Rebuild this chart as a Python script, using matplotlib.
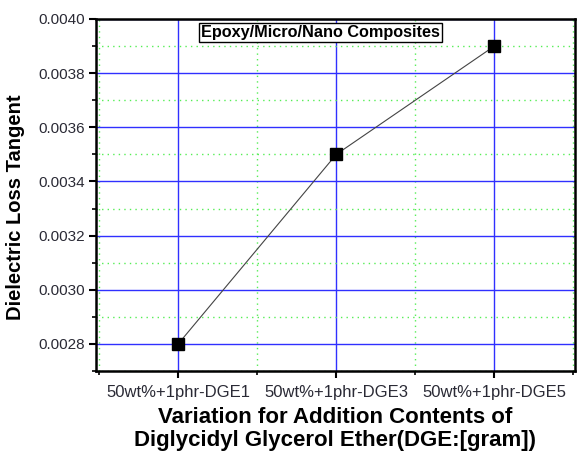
import matplotlib
matplotlib.use("Agg")
import matplotlib.pyplot as plt
from matplotlib.ticker import MultipleLocator, FixedLocator

categories = ["50wt%+1phr-DGE1", "50wt%+1phr-DGE3", "50wt%+1phr-DGE5"]
values = [0.0028, 0.0035, 0.0039]
title_text = "Epoxy/Micro/Nano Composites"

plt.rcParams['font.family'] = ['Liberation Sans', 'DejaVu Sans']

fig = plt.figure(figsize=(5.78, 4.58), dpi=100)
ax = fig.add_axes([96/578, 1-371/458, (575-96)/578, (371-19)/458])

x = list(range(len(categories)))
ax.plot(x, values, color='#444444', lw=0.8, marker='s', markersize=8,
        markerfacecolor='black', markeredgecolor='black', zorder=5)

ax.set_xlim(-0.52, 2.51)
ax.set_ylim(0.0027, 0.0040)
ax.set_xticks(x)
ax.set_xticklabels(categories, fontsize=12, color='#2a2a35')
ax.xaxis.set_minor_locator(FixedLocator([-0.5, 0.5, 1.5, 2.5]))
ax.yaxis.set_major_locator(MultipleLocator(0.0002))
ax.yaxis.set_minor_locator(MultipleLocator(0.0001))
ax.yaxis.set_major_formatter(matplotlib.ticker.FormatStrFormatter('%.4f'))
for lab in ax.get_yticklabels():
    lab.set_fontsize(11)
    lab.set_color('#2a2a35')

ax.tick_params(which='major', direction='out', length=5, width=1.5, pad=3)
ax.tick_params(which='minor', direction='out', length=3, width=1.2)
ax.tick_params(axis='x', which='major', pad=5)

ax.grid(which='major', color='#3030ff', lw=1.0, ls='-')
ax.grid(which='minor', color='#55ee55', lw=1.0, ls=(0, (1, 3)))
ax.set_axisbelow(True)

for s in ax.spines.values():
    s.set_linewidth(1.8)
    s.set_color('black')

ax.set_ylabel("Dielectric Loss Tangent", fontsize=14.5, fontweight='bold')
ax.yaxis.set_label_coords(-0.148, 0.466)
ax.set_xlabel("Variation for Addition Contents of\nDiglycidyl Glycerol Ether(DGE:[gram])",
              fontsize=16, fontweight='bold', labelpad=5, linespacing=1.15)

ax.text(0.22, 0.962, title_text, transform=ax.transAxes, fontsize=11.7,
        fontweight='bold', va='center', ha='left',
        bbox=dict(boxstyle='square,pad=0.12', facecolor='white', edgecolor='black', lw=1.0),
        zorder=6)

fig.savefig("out.png", dpi=100)
